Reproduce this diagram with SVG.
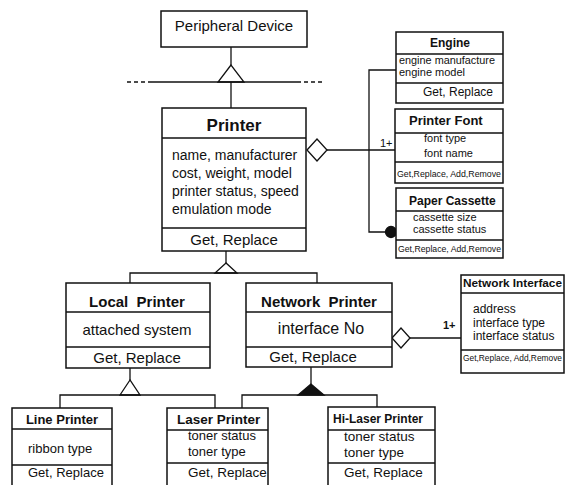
<svg xmlns="http://www.w3.org/2000/svg" width="577" height="485" viewBox="0 0 577 485">
<style>
.box{fill:#fff;stroke:#111;stroke-width:1.5}
.div{stroke:#111;stroke-width:1.3;fill:none}
.ln{stroke:#111;stroke-width:1.3;fill:none}
.hol{fill:#fff;stroke:#111;stroke-width:1.3}
.sol{fill:#111;stroke:#111;stroke-width:1.3}
text{font-family:"Liberation Sans",Arial,sans-serif;fill:#111}
.b{font-weight:bold}
.m{text-anchor:middle}
</style>
<rect width="577" height="485" fill="#fff"/>
<g id="connectors">
  <line class="ln" x1="231" y1="47" x2="231" y2="65"/>
  <polygon class="hol" points="231,65 218,82 244,82"/>
  <line class="ln" x1="127" y1="82" x2="152" y2="82" stroke-dasharray="4,3"/>
  <line class="ln" x1="152" y1="82" x2="297" y2="82"/>
  <line class="ln" x1="297" y1="82" x2="322" y2="82" stroke-dasharray="4,3"/>
  <line class="ln" x1="231" y1="82" x2="231" y2="108"/>
  <line class="ln" x1="226" y1="251" x2="226" y2="263"/>
  <polygon class="hol" points="226,263 215,273 237,273"/>
  <polyline class="ln" points="130,283 130,273 317,273 317,283"/>
  <polygon class="hol" points="307,150 317,139 327,150 317,161"/>
  <line class="ln" x1="327" y1="150" x2="395" y2="150"/>
  <polyline class="ln" points="396,70 369,70 369,232 387,232"/>
  <circle cx="391" cy="232" r="5.5" class="sol"/>
  <text x="380" y="147" font-size="11">1+</text>
  <line class="ln" x1="130" y1="368" x2="130" y2="380"/>
  <polygon class="hol" points="130,380 120,395 140,395"/>
  <polyline class="ln" points="60,408 60,395 215,395 215,408"/>
  <line class="ln" x1="311" y1="367" x2="311" y2="384"/>
  <polygon class="sol" points="311,384 298,395 324,395"/>
  <polyline class="ln" points="242,408 242,395 377,395 377,407"/>
  <polygon class="hol" points="392,338 401,328 410,338 401,348"/>
  <line class="ln" x1="410" y1="338" x2="461" y2="338"/>
  <text x="443" y="329" font-size="11" class="b">1+</text>
</g>
<g id="peripheral-device">
  <rect class="box" x="161" y="11" width="146" height="36"/>
  <text x="234" y="31" font-size="15" class="m">Peripheral Device</text>
</g>
<g id="printer">
  <rect class="box" x="162" y="108" width="144" height="143"/>
  <line class="div" x1="162" y1="138" x2="306" y2="138"/>
  <line class="div" x1="162" y1="228" x2="306" y2="228"/>
  <text x="234" y="131" font-size="17" class="b m">Printer</text>
  <text x="172" y="160" font-size="14">name, manufacturer</text>
  <text x="172" y="178" font-size="14">cost, weight, model</text>
  <text x="172" y="196" font-size="14">printer status, speed</text>
  <text x="172" y="214" font-size="14">emulation mode</text>
  <text x="234" y="245" font-size="15" class="m">Get, Replace</text>
</g>
<g id="engine">
  <rect class="box" x="396" y="32" width="107" height="71"/>
  <line class="div" x1="396" y1="54" x2="503" y2="54"/>
  <line class="div" x1="396" y1="83" x2="503" y2="83"/>
  <text x="450" y="47" font-size="12" class="b m">Engine</text>
  <text x="399" y="64" font-size="11" textLength="96" lengthAdjust="spacingAndGlyphs">engine manufacture</text>
  <text x="399" y="76" font-size="11">engine model</text>
  <text x="423" y="96" font-size="12">Get, Replace</text>
</g>
<g id="printer-font">
  <rect class="box" x="395" y="109" width="108" height="74"/>
  <line class="div" x1="395" y1="133" x2="503" y2="133"/>
  <line class="div" x1="395" y1="162" x2="503" y2="162"/>
  <text x="409" y="125" font-size="13" class="b">Printer Font</text>
  <text x="424" y="142" font-size="11">font type</text>
  <text x="424" y="157" font-size="11">font name</text>
  <text x="397" y="177" font-size="9" textLength="104" lengthAdjust="spacingAndGlyphs">Get,Replace, Add,Remove</text>
</g>
<g id="paper-cassette">
  <rect class="box" x="396" y="188" width="107" height="70"/>
  <line class="div" x1="396" y1="211" x2="503" y2="211"/>
  <line class="div" x1="396" y1="240" x2="503" y2="240"/>
  <text x="409" y="205" font-size="12" class="b">Paper Cassette</text>
  <text x="413" y="221" font-size="11">cassette size</text>
  <text x="413" y="233" font-size="11">cassette status</text>
  <text x="398" y="252" font-size="9" textLength="103" lengthAdjust="spacingAndGlyphs">Get,Replace, Add,Remove</text>
</g>
<g id="local-printer">
  <rect class="box" x="66" y="283" width="144" height="85"/>
  <line class="div" x1="66" y1="312" x2="210" y2="312"/>
  <line class="div" x1="66" y1="347" x2="210" y2="347"/>
  <text x="137" y="307" font-size="15" class="b m" xml:space="preserve">Local  Printer</text>
  <text x="137" y="335" font-size="15" class="m">attached system</text>
  <text x="137" y="363" font-size="15" class="m">Get, Replace</text>
</g>
<g id="network-printer">
  <rect class="box" x="246" y="283" width="146" height="84"/>
  <line class="div" x1="246" y1="312" x2="392" y2="312"/>
  <line class="div" x1="246" y1="347" x2="392" y2="347"/>
  <text x="319" y="307" font-size="15" class="b m" xml:space="preserve">Network  Printer</text>
  <text x="321" y="334" font-size="16" class="m">interface No</text>
  <text x="313" y="362" font-size="15" class="m">Get, Replace</text>
</g>
<g id="network-interface">
  <rect class="box" x="461" y="275" width="103" height="98"/>
  <line class="div" x1="461" y1="293" x2="564" y2="293"/>
  <line class="div" x1="461" y1="350" x2="564" y2="350"/>
  <text x="463" y="287" font-size="11.5" class="b" textLength="99" lengthAdjust="spacingAndGlyphs">Network Interface</text>
  <text x="473" y="313" font-size="12">address</text>
  <text x="473" y="327" font-size="12">interface type</text>
  <text x="473" y="340" font-size="12">interface status</text>
  <text x="463" y="361" font-size="9" textLength="99" lengthAdjust="spacingAndGlyphs">Get,Replace, Add,Remove</text>
</g>
<g id="line-printer">
  <rect class="box" x="12" y="408" width="100" height="90"/>
  <line class="div" x1="12" y1="429" x2="112" y2="429"/>
  <line class="div" x1="12" y1="465" x2="112" y2="465"/>
  <text x="62" y="424" font-size="13" class="b m">Line Printer</text>
  <text x="28" y="453" font-size="13">ribbon type</text>
  <text x="28" y="477" font-size="13">Get, Replace</text>
</g>
<g id="laser-printer">
  <rect class="box" x="167" y="408" width="101" height="90"/>
  <line class="div" x1="167" y1="430" x2="268" y2="430"/>
  <line class="div" x1="167" y1="463" x2="268" y2="463"/>
  <text x="177" y="424" font-size="13.5" class="b">Laser Printer</text>
  <text x="188" y="440" font-size="13">toner status</text>
  <text x="188" y="456" font-size="13">toner type</text>
  <text x="188" y="477" font-size="13.5">Get, Replace</text>
</g>
<g id="hi-laser-printer">
  <rect class="box" x="328" y="407" width="107" height="90"/>
  <line class="div" x1="328" y1="430" x2="435" y2="430"/>
  <line class="div" x1="328" y1="463" x2="435" y2="463"/>
  <text x="333" y="423" font-size="12" class="b">Hi-Laser Printer</text>
  <text x="344" y="441" font-size="13.5">toner status</text>
  <text x="344" y="457" font-size="13.5">toner type</text>
  <text x="344" y="477" font-size="13.5">Get, Replace</text>
</g>
</svg>
